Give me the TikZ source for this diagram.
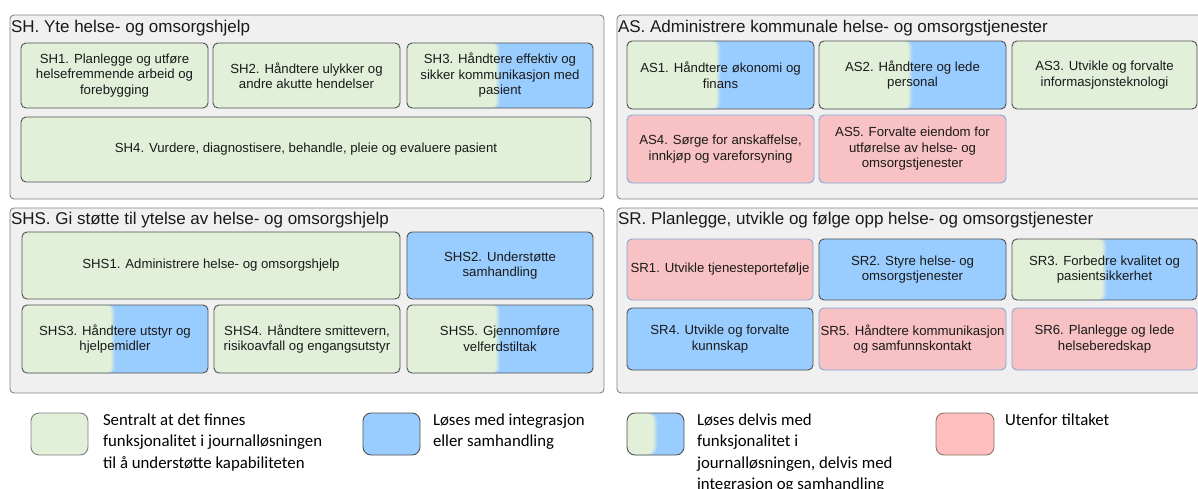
\documentclass[tikz,border=0pt]{standalone}
\usepackage{fontspec}
\usetikzlibrary{calc}
\setmainfont{Liberation Sans}
\newfontfamily\legendfont{Carlito}

\definecolor{capgreen}{HTML}{E2EFD9}
\definecolor{capblue}{HTML}{99CCFF}
\definecolor{cappink}{HTML}{F8C1C4}
\definecolor{legpink}{HTML}{FFBFBF}
\definecolor{panelfill}{HTML}{F0F0F0}
\definecolor{panelline}{HTML}{858585}
\definecolor{boxline}{HTML}{505050}
\definecolor{pinkline}{HTML}{7FA8D8}
\definecolor{legline}{HTML}{7F7F7F}
\definecolor{legpinkline}{HTML}{8A7462}
\definecolor{inktext}{HTML}{1A1A1A}

\tikzset{
  panel/.style={draw=panelline, fill=panelfill, line width=0.9pt, rounded corners=4pt,
    inner sep=0pt, outer sep=0pt, anchor=north west},
  paneltitle/.style={inner sep=0pt, outer sep=0pt, anchor=base west, text=inktext,
    font=\fontsize{17}{20}\selectfont},
  capbox/.style={draw=boxline, line width=0.9pt, rounded corners=5pt, inner sep=1pt,
    outer sep=0pt, align=center, text=inktext, anchor=north west,
    font=\fontsize{13.2}{15.5}\selectfont},
  % blue base, green part laid over it from the left, soft seam at fraction #1
  splitfill/.style={fill=capblue, path picture={
      \coordinate (ppa) at (path picture bounding box.north west);
      \coordinate (ppb) at (path picture bounding box.south east);
      \coordinate (ppm) at ($(ppa)!#1!(ppb)$);
      \fill[capgreen!20!capblue] (ppa) rectangle ($(ppm |- ppb)+(2,0)$);
      \fill[capgreen!40!capblue] (ppa) rectangle ($(ppm |- ppb)+(1,0)$);
      \fill[capgreen!60!capblue] (ppa) rectangle ($(ppm |- ppb)+(0,0)$);
      \fill[capgreen!80!capblue] (ppa) rectangle ($(ppm |- ppb)+(-1,0)$);
      \fill[capgreen] (ppa) rectangle ($(ppm |- ppb)+(-2,0)$);
    }},
  gcell/.style={capbox, fill=capgreen},
  bcell/.style={capbox, fill=capblue},
  pcell/.style={capbox, fill=cappink, draw=pinkline},
  scell/.style={capbox, splitfill=0.49},
  tcell/.style={capbox, splitfill=0.5},
  legbox/.style={line width=0.9pt, rounded corners=8pt, inner sep=0pt, outer sep=0pt,
    anchor=north west},
  legtext/.style={inner sep=0pt, outer sep=0pt, anchor=base west, text=black,
    font=\legendfont\fontsize{16.8}{21.3}\selectfont},
}

% \capcell{name}{style}{x1}{y1}{x2}{y2}{text}
\newcommand\capcell[7]{\node[#2, minimum width={#5-#3}, minimum height={#6-#4}] (#1) at (#3,#4) {#7};}

\begin{document}
\begin{tikzpicture}[x=1pt, y=-1pt]
\useasboundingbox (0,0) rectangle (1198,488);
\fill[white] (0,0) rectangle (1198,488);
\clip (0,0) rectangle (1198,488);

% ---- panels ----
\capcell{pSH}{panel}{10}{15}{604}{199}{}
\capcell{pAS}{panel}{617}{15}{1212}{199}{}
\capcell{pSHS}{panel}{10}{208}{604}{393}{}
\capcell{pSR}{panel}{617}{208}{1212}{393}{}

\node[paneltitle] (tSH)  at (11,32.5)  {SH. Yte helse- og omsorgshjelp};
\node[paneltitle] (tAS)  at (618,32.5) {AS. Administrere kommunale helse- og omsorgstjenester};
\node[paneltitle] (tSHS) at (11,224.5) {SHS. Gi støtte til ytelse av helse- og omsorgshjelp};
\node[paneltitle] (tSR)  at (618,224.5) {SR. Planlegge, utvikle og følge opp helse- og omsorgstjenester};

% ---- SH ----
\capcell{sh1}{gcell}{21}{43}{208}{108}{SH1. Planlegge og utføre\\helsefremmende arbeid og\\forebygging}
\capcell{sh2}{gcell}{213}{43}{400}{108}{SH2. Håndtere ulykker og\\andre akutte hendelser}
\capcell{sh3}{scell}{407}{43}{593}{108}{SH3. Håndtere effektiv og\\sikker kommunikasjon med\\pasient}
\capcell{sh4}{gcell}{21}{117}{591}{182}{SH4. Vurdere, diagnostisere, behandle, pleie og evaluere pasient}

% ---- AS ----
\capcell{as1}{scell}{627}{41}{814}{109}{AS1. Håndtere økonomi og\\finans}
\capcell{as2}{scell}{819}{41}{1006}{109}{AS2. Håndtere og lede\\personal}
\capcell{as3}{gcell}{1012}{41}{1197}{109}{AS3. Utvikle og forvalte\\informasjonsteknologi}
\capcell{as4}{pcell}{627}{115}{814}{183}{AS4. Sørge for anskaffelse,\\innkjøp og vareforsyning}
\capcell{as5}{pcell}{819}{115}{1006}{183}{AS5. Forvalte eiendom for\\utførelse av helse- og\\omsorgstjenester}

% ---- SHS ----
\capcell{shs1}{gcell}{22}{232}{400}{299}{SHS1. Administrere helse- og omsorgshjelp}
\capcell{shs2}{bcell}{407}{232}{593}{299}{SHS2. Understøtte\\samhandling}
\capcell{shs3}{scell}{22}{305}{208}{373}{SHS3. Håndtere utstyr og\\hjelpemidler}
\capcell{shs4}{gcell}{214}{305}{400}{373}{SHS4. Håndtere smittevern,\\risikoavfall og engangsutstyr}
\capcell{shs5}{scell}{407}{305}{593}{373}{SHS5. Gjennomføre\\velferdstiltak}

% ---- SR ----
\capcell{sr1}{pcell}{627}{239}{813}{300}{SR1. Utvikle tjenesteportefølje}
\capcell{sr2}{bcell}{819}{239}{1006}{300}{SR2. Styre helse- og\\omsorgstjenester}
\capcell{sr3}{tcell}{1012}{239}{1197}{300}{SR3. Forbedre kvalitet og\\pasientsikkerhet}
\capcell{sr4}{bcell}{627}{308}{813}{370}{SR4. Utvikle og forvalte\\kunnskap}
\capcell{sr5}{pcell}{819}{308}{1006}{370}{SR5. Håndtere kommunikasjon\\og samfunnskontakt}
\capcell{sr6}{pcell}{1012}{308}{1197}{370}{SR6. Planlegge og lede\\helseberedskap}

% ---- legend ----
\capcell{lgG}{legbox, draw=legline, fill=capgreen}{31}{413}{88}{455}{}
\capcell{lgB}{legbox, draw=boxline, fill=capblue}{363}{413}{420}{455}{}
\capcell{lgS}{legbox, draw=boxline, splitfill=0.5}{627}{413}{684}{455}{}
\capcell{lgP}{legbox, draw=legpinkline, fill=legpink}{936}{413}{994}{455}{}

\node[legtext] (lgGt) at (103,425.5) {\parbox[t]{240pt}{Sentralt at det finnes\\funksjonalitet i journalløsningen\\til å understøtte kapabiliteten}};
\node[legtext] (lgBt) at (433,425.5) {\parbox[t]{200pt}{Løses med integrasjon\\eller samhandling}};
\node[legtext] (lgSt) at (697,425.5) {\parbox[t]{220pt}{Løses delvis med\\funksjonalitet i\\journalløsningen, delvis med\\integrasjon og samhandling}};
\node[legtext] (lgPt) at (1005,425.5) {\parbox[t]{180pt}{Utenfor tiltaket}};
\end{tikzpicture}
\end{document}
